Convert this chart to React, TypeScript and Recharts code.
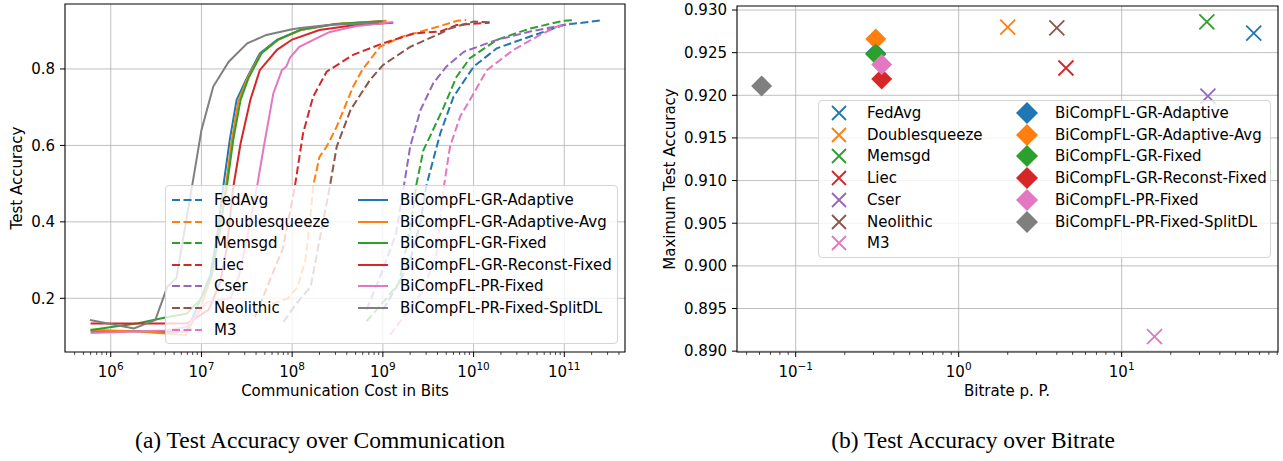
import React from "react";
import {
  CartesianGrid,
  Legend,
  Line,
  LineChart,
  ReferenceArea,
  Scatter,
  ScatterChart,
  XAxis,
  YAxis,
} from "recharts";

const FONT = "'DejaVu Sans', sans-serif";
const FS = 15;

const baselineNames = ["FedAvg", "Doublesqueeze", "Memsgd", "Liec", "Cser", "Neolithic", "M3"];
const oursNames = [
  "BiCompFL-GR-Adaptive",
  "BiCompFL-GR-Adaptive-Avg",
  "BiCompFL-GR-Fixed",
  "BiCompFL-GR-Reconst-Fixed",
  "BiCompFL-PR-Fixed",
  "BiCompFL-PR-Fixed-SplitDL",
];
const baselineColors = ["#1f77b4", "#ff7f0e", "#2ca02c", "#d62728", "#9467bd", "#8c564b", "#e377c2"];
const oursColors = ["#1f77b4", "#ff7f0e", "#2ca02c", "#d62728", "#e377c2", "#7f7f7f"];

// (a) accuracy vs. communicated bits, [bits, accuracy]
const fedAvgCurve = [[1.0e9, 0.17], [1.5e9, 0.24], [2.0e9, 0.3], [2.6e9, 0.4], [3.0e9, 0.492], [3.3e9, 0.53], [4.3e9, 0.632], [6.0e9, 0.727], [1.0e10, 0.806], [1.8e10, 0.854], [4.2e10, 0.885], [9.8e10, 0.915], [2.5e11, 0.927]];
const doublesqueezeCurve = [[6.0e7, 0.185], [9.0e7, 0.2], [1.15e8, 0.23], [1.4e8, 0.3], [1.6e8, 0.42], [1.7e8, 0.492], [2.0e8, 0.57], [2.4e8, 0.597], [3.1e8, 0.649], [4.7e8, 0.754], [5.9e8, 0.797], [9.3e8, 0.858], [1.65e9, 0.885], [3.6e9, 0.907], [6.6e9, 0.926], [8.3e9, 0.928]];
const memsgdCurve = [[6.6e8, 0.14], [1.1e9, 0.2], [1.5e9, 0.24], [2.0e9, 0.38], [2.35e9, 0.5], [2.8e9, 0.588], [3.3e9, 0.623], [4.7e9, 0.701], [6.5e9, 0.78], [9.1e9, 0.828], [1.8e10, 0.876], [4.2e10, 0.906], [9.8e10, 0.926], [1.3e11, 0.928]];
const liecCurve = [[3.9e7, 0.151], [6.1e7, 0.266], [7.9e7, 0.33], [9.0e7, 0.4], [1.07e8, 0.492], [1.32e8, 0.632], [1.7e8, 0.727], [2.4e8, 0.793], [4.7e8, 0.837], [1.0e9, 0.867], [2.2e9, 0.893], [4.3e9, 0.898], [6.5e9, 0.915], [1.5e10, 0.921]];
const cserCurve = [[6.6e8, 0.17], [9.3e8, 0.256], [1.4e9, 0.37], [1.7e9, 0.492], [2.0e9, 0.597], [2.6e9, 0.693], [3.6e9, 0.763], [5.0e9, 0.806], [7.8e9, 0.845], [1.8e10, 0.876], [4.2e10, 0.898], [9.8e10, 0.915], [1.2e11, 0.919]];
const neolithicCurve = [[8.0e7, 0.138], [1.12e8, 0.187], [1.6e8, 0.23], [2.0e8, 0.352], [2.6e8, 0.492], [3.1e8, 0.597], [4.4e8, 0.693], [7.2e8, 0.771], [1.0e9, 0.81], [2.0e9, 0.858], [4.3e9, 0.893], [5.5e9, 0.906], [1.0e10, 0.924], [1.6e10, 0.922]];
const m3Curve = [[1.2e9, 0.104], [1.7e9, 0.152], [2.8e9, 0.221], [3.9e9, 0.318], [4.7e9, 0.492], [5.5e9, 0.597], [7.1e9, 0.675], [1.0e10, 0.736], [1.4e10, 0.797], [2.75e10, 0.85], [5.4e10, 0.889], [8.3e10, 0.911], [1.0e11, 0.915]];

const grAdaptiveCurve = [[6.0e5, 0.115], [2.0e6, 0.114], [4.0e6, 0.112], [6.8e6, 0.113], [9.5e6, 0.19], [1.25e7, 0.26], [1.5e7, 0.37], [1.74e7, 0.492], [2.05e7, 0.614], [2.44e7, 0.719], [3.16e7, 0.776], [4.4e7, 0.841], [6.8e7, 0.876], [1.23e8, 0.902], [3.0e8, 0.917], [1.0e9, 0.925]];
const grAdaptiveAvgCurve = [[6.0e5, 0.118], [2.0e6, 0.113], [4.0e6, 0.108], [6.7e6, 0.104], [1.0e7, 0.18], [1.3e7, 0.26], [1.6e7, 0.38], [1.85e7, 0.49], [2.15e7, 0.61], [2.55e7, 0.715], [3.2e7, 0.775], [4.5e7, 0.84], [7.0e7, 0.876], [1.25e8, 0.902], [3.0e8, 0.918], [1.1e9, 0.926]];
const grFixedCurve = [[6.0e5, 0.117], [2.0e6, 0.135], [4.0e6, 0.15], [6.9e6, 0.16], [1.0e7, 0.2], [1.29e7, 0.26], [1.6e7, 0.38], [1.9e7, 0.49], [2.24e7, 0.614], [2.7e7, 0.719], [3.3e7, 0.776], [4.6e7, 0.841], [7.0e7, 0.877], [1.25e8, 0.903], [3.0e8, 0.918], [1.0e9, 0.925]];
const grReconstCurve = [[6.0e5, 0.134], [2.0e6, 0.134], [4.0e6, 0.134], [7.0e6, 0.135], [1.2e7, 0.17], [1.6e7, 0.24], [1.9e7, 0.33], [2.24e7, 0.49], [2.7e7, 0.605], [3.46e7, 0.719], [4.4e7, 0.797], [6.8e7, 0.85], [1.0e8, 0.877], [2.0e8, 0.902], [5.0e8, 0.915], [1.3e9, 0.921]];
const prFixedCurve = [[6.0e5, 0.109], [2.0e6, 0.113], [4.0e6, 0.116], [6.9e6, 0.125], [1.15e7, 0.19], [2.1e7, 0.2], [2.6e7, 0.26], [3.2e7, 0.36], [4.1e7, 0.492], [4.8e7, 0.588], [6.2e7, 0.736], [7.7e7, 0.797], [8.6e7, 0.806], [9.5e7, 0.83], [1.2e8, 0.858], [1.85e8, 0.88], [2.6e8, 0.897], [5.0e8, 0.912], [1.3e9, 0.923]];
const prSplitCurve = [[5.9e5, 0.143], [1.8e6, 0.121], [3.1e6, 0.143], [4.2e6, 0.23], [5.3e6, 0.253], [8.1e6, 0.51], [1.0e7, 0.64], [1.35e7, 0.754], [2.0e7, 0.819], [3.2e7, 0.867], [5.2e7, 0.889], [1.0e8, 0.904], [1.3e8, 0.908], [2.5e8, 0.915], [9.0e8, 0.921]];

const baselineCurves = [fedAvgCurve, doublesqueezeCurve, memsgdCurve, liecCurve, cserCurve, neolithicCurve, m3Curve];
const oursCurves = [grAdaptiveCurve, grAdaptiveAvgCurve, grFixedCurve, grReconstCurve, prFixedCurve, prSplitCurve];

// (b) maximum accuracy vs. bitrate per parameter
const baselineBitrate = [64.6, 2.0, 33.3, 4.55, 33.8, 4.0, 15.9];
const baselineMaxAcc = [0.9273, 0.928, 0.9286, 0.9232, 0.9199, 0.9279, 0.8917];
const oursBitrate = [0.31, 0.31, 0.31, 0.337, 0.337, 0.0618];
const oursMaxAcc = [0.9249, 0.9266, 0.9248, 0.9219, 0.9236, 0.9211];

const commTicksMajor = [1e6, 1e7, 1e8, 1e9, 1e10, 1e11];
const accTicks = [0.2, 0.4, 0.6, 0.8];
const rateTicksMajor = [0.1, 1, 10];
const maxAccTicks = [0.89, 0.895, 0.9, 0.905, 0.91, 0.915, 0.92, 0.925, 0.93];

const toPts = (c: number[][]) => c.map(([x, y]) => ({ x, y }));

function minorTicks(lo: number, hi: number) {
  const out: number[] = [];
  for (let e = Math.floor(Math.log10(lo)); e <= Math.ceil(Math.log10(hi)); e++) {
    for (let m = 1; m < 10; m++) {
      const v = m * Math.pow(10, e);
      if (v >= lo && v <= hi) out.push(v);
    }
  }
  return out;
}

const commDomain = [Math.pow(10, 5.496), Math.pow(10, 11.669)];
const rateDomain = [Math.pow(10, -1.36), Math.pow(10, 1.959)];

function makeLogTick(majors: number[]) {
  return function LogTick(props: any) {
    const { x, y, payload } = props;
    const v = payload.value;
    const isMajor = majors.some((m) => Math.abs(m - v) / m < 1e-6);
    const e = Math.round(Math.log10(v));
    return (
      <g>
        <line x1={x} x2={x} y1={y} y2={y + (isMajor ? 5 : 3)} stroke="#000" strokeWidth={isMajor ? 1 : 0.7} />
        {isMajor && (
          <text x={x} y={y + 25} textAnchor="middle" fontSize={FS} fill="#000" fontFamily={FONT}>
            <tspan>10</tspan>
            <tspan dy={-7} fontSize={10.5}>
              {e < 0 ? "\u2212" + -e : e}
            </tspan>
          </text>
        )}
      </g>
    );
  };
}

const legendBox: React.CSSProperties = {
  position: "relative",
  width: "100%",
  height: "100%",
  boxSizing: "border-box",
  border: "1px solid #d4d4d4",
  borderRadius: 4,
  background: "rgba(255,255,255,0.8)",
  fontFamily: FONT,
  fontSize: FS,
  color: "#000",
};

function LegendRow({ top, left, handle, label }: { top: number; left: number; handle: React.ReactNode; label: string }) {
  return (
    <div style={{ position: "absolute", top, left, transform: "translateY(-50%)", display: "flex", alignItems: "center", whiteSpace: "nowrap" }}>
      {handle}
      <span>{label}</span>
    </div>
  );
}

function CurveLegend() {
  const handle = (color: string, dashed: boolean) => (
    <svg width={30} height={10} style={{ marginRight: 12 }}>
      <line x1={0} x2={30} y1={5} y2={5} stroke={color} strokeWidth={2} strokeDasharray={dashed ? "8 3.5" : undefined} />
    </svg>
  );
  return (
    <div style={legendBox}>
      {baselineNames.map((n, i) => (
        <LegendRow key={n} top={14 + i * 21.6} left={6} handle={handle(baselineColors[i], true)} label={n} />
      ))}
      {oursNames.map((n, i) => (
        <LegendRow key={n} top={14 + i * 21.6} left={192} handle={handle(oursColors[i], false)} label={n} />
      ))}
    </div>
  );
}

const crossPath = (cx: number, cy: number, r: number) =>
  `M${cx - r},${cy - r}L${cx + r},${cy + r}M${cx - r},${cy + r}L${cx + r},${cy - r}`;
const diamondPath = (cx: number, cy: number, r: number) =>
  `M${cx},${cy - r}L${cx + r},${cy}L${cx},${cy + r}L${cx - r},${cy}Z`;

function PointLegend() {
  return (
    <div style={legendBox}>
      {baselineNames.map((n, i) => (
        <LegendRow
          key={n}
          top={12 + i * 21.7}
          left={8}
          label={n}
          handle={
            <svg width={24} height={20} style={{ marginRight: 16 }}>
              <path d={crossPath(12, 10, 7)} stroke={baselineColors[i]} strokeWidth={1.8} fill="none" />
            </svg>
          }
        />
      ))}
      {oursNames.map((n, i) => (
        <LegendRow
          key={n}
          top={12 + i * 21.7}
          left={196}
          label={n}
          handle={
            <svg width={24} height={24} style={{ marginRight: 16 }}>
              <path d={diamondPath(12, 12, 11)} fill={oursColors[i]} />
            </svg>
          }
        />
      ))}
    </div>
  );
}

const axisLabel: React.CSSProperties = {
  position: "absolute",
  transform: "translate(-50%, -50%)",
  fontFamily: FONT,
  fontSize: FS,
  color: "#000",
  whiteSpace: "nowrap",
};
const caption: React.CSSProperties = {
  position: "absolute",
  transform: "translate(-50%, -50%)",
  fontFamily: "'Liberation Serif', 'Times New Roman', serif",
  fontSize: 23.5,
  color: "#000",
  whiteSpace: "nowrap",
};

function CommChart() {
  const ticks = minorTicks(commDomain[0], commDomain[1]);
  return (
    <LineChart width={640} height={400} margin={{ top: 4, right: 15, bottom: 0, left: 0 }}>
      <CartesianGrid stroke="#b0b0b0" strokeWidth={0.8} verticalValues={commTicksMajor} horizontalValues={accTicks} />
      <XAxis
        type="number"
        dataKey="x"
        scale="log"
        domain={commDomain}
        allowDataOverflow
        ticks={ticks}
        interval={0}
        tickSize={0}
        tickMargin={0}
        axisLine={false}
        tickLine={false}
        height={48}
        tick={makeLogTick(commTicksMajor)}
      />
      <YAxis
        type="number"
        domain={[0.0595, 0.97]}
        allowDataOverflow
        ticks={accTicks}
        interval={0}
        width={65}
        axisLine={false}
        tickSize={5}
        tickMargin={5}
        tickLine={{ stroke: "#000" }}
        tickFormatter={(v: number) => v.toFixed(1)}
        tick={{ fill: "#000", fontSize: FS, fontFamily: FONT }}
      />
      {baselineCurves.map((c, i) => (
        <Line
          key={baselineNames[i]}
          data={toPts(c)}
          dataKey="y"
          type="linear"
          stroke={baselineColors[i]}
          strokeWidth={2}
          strokeDasharray="8 3.5"
          dot={false}
          activeDot={false}
          isAnimationActive={false}
        />
      ))}
      {oursCurves.map((c, i) => (
        <Line
          key={oursNames[i]}
          data={toPts(c)}
          dataKey="y"
          type="linear"
          stroke={oursColors[i]}
          strokeWidth={2}
          dot={false}
          activeDot={false}
          isAnimationActive={false}
        />
      ))}
      <ReferenceArea x1={commDomain[0]} x2={commDomain[1]} y1={0.0595} y2={0.97} fill="none" stroke="#000" strokeWidth={1.1} />
      <Legend
        layout="vertical"
        align="center"
        verticalAlign="middle"
        wrapperStyle={{ left: 165, top: 185, width: 453, height: 159 }}
        content={() => <CurveLegend />}
      />
    </LineChart>
  );
}

function RateChart() {
  const ticks = minorTicks(rateDomain[0], rateDomain[1]);
  return (
    <ScatterChart width={623} height={400} margin={{ top: 6, right: 5, bottom: 0, left: 0 }}>
      <CartesianGrid stroke="#b0b0b0" strokeWidth={0.8} verticalValues={rateTicksMajor} horizontalValues={maxAccTicks} />
      <XAxis
        type="number"
        dataKey="x"
        scale="log"
        domain={rateDomain}
        allowDataOverflow
        ticks={ticks}
        interval={0}
        tickSize={0}
        tickMargin={0}
        axisLine={false}
        tickLine={false}
        height={48}
        tick={makeLogTick(rateTicksMajor)}
      />
      <YAxis
        type="number"
        dataKey="y"
        domain={[0.8899, 0.93047]}
        allowDataOverflow
        ticks={maxAccTicks}
        interval={0}
        width={77}
        axisLine={false}
        tickSize={5}
        tickMargin={5}
        tickLine={{ stroke: "#000" }}
        tickFormatter={(v: number) => v.toFixed(3)}
        tick={{ fill: "#000", fontSize: FS, fontFamily: FONT }}
      />
      {baselineNames.map((n, i) => (
        <Scatter
          key={n}
          data={[{ x: baselineBitrate[i], y: baselineMaxAcc[i] }]}
          isAnimationActive={false}
          shape={(p: any) => <path d={crossPath(p.cx, p.cy, 7.5)} stroke={baselineColors[i]} strokeWidth={1.8} fill="none" />}
        />
      ))}
      {oursNames.map((n, i) => (
        <Scatter
          key={n}
          data={[{ x: oursBitrate[i], y: oursMaxAcc[i] }]}
          isAnimationActive={false}
          shape={(p: any) => <path d={diamondPath(p.cx, p.cy, 10.5)} fill={oursColors[i]} />}
        />
      ))}
      <ReferenceArea x1={rateDomain[0]} x2={rateDomain[1]} y1={0.8899} y2={0.93047} fill="none" stroke="#000" strokeWidth={1.1} />
      <Legend
        layout="vertical"
        align="center"
        verticalAlign="middle"
        wrapperStyle={{ left: 158, top: 100, width: 453, height: 158 }}
        content={() => <PointLegend />}
      />
    </ScatterChart>
  );
}

export default function App() {
  return (
    <div style={{ position: "absolute", left: 0, top: 0, width: 1283, height: 461, background: "#fff", overflow: "hidden" }}>
      <div style={{ position: "absolute", left: 0, top: 0 }}>
        <CommChart />
      </div>
      <div style={{ position: "absolute", left: 660, top: 0 }}>
        <RateChart />
      </div>
      <div style={{ ...axisLabel, left: 345, top: 391 }}>Communication Cost in Bits</div>
      <div style={{ ...axisLabel, left: 17, top: 178, transform: "translate(-50%, -50%) rotate(-90deg)" }}>Test Accuracy</div>
      <div style={{ ...axisLabel, left: 1007, top: 391 }}>Bitrate p. P.</div>
      <div style={{ ...axisLabel, left: 670, top: 179, transform: "translate(-50%, -50%) rotate(-90deg)" }}>Maximum Test Accuracy</div>
      <div style={{ ...caption, left: 320, top: 440 }}>(a)  Test Accuracy over Communication</div>
      <div style={{ ...caption, left: 973, top: 440 }}>(b)  Test Accuracy over Bitrate</div>
    </div>
  );
}
